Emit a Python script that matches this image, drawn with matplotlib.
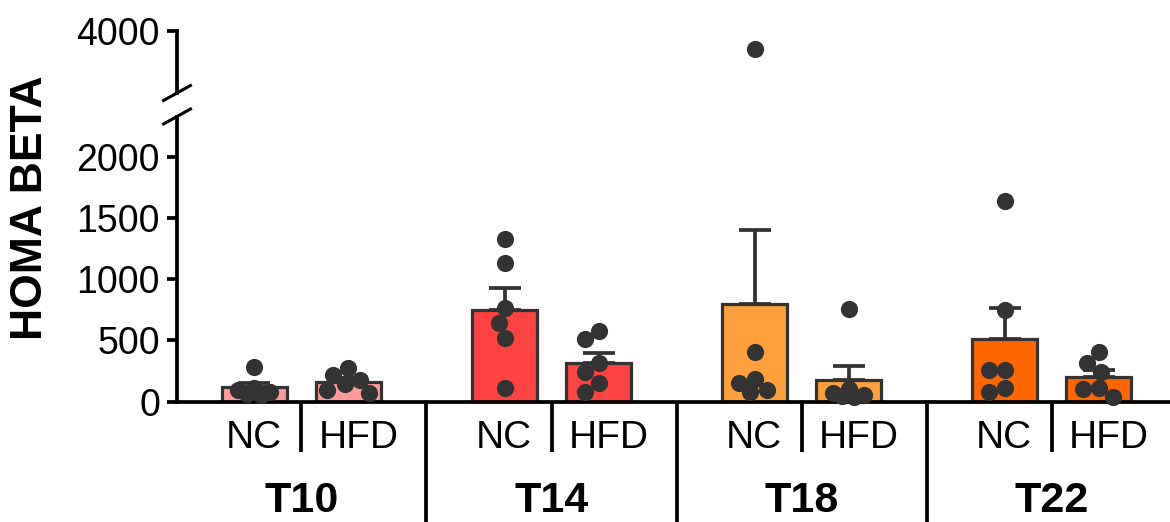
import numpy as np
import matplotlib
matplotlib.use("Agg")
import matplotlib.pyplot as plt
import matplotlib.transforms as mtransforms

plt.rcParams['font.family'] = ['Liberation Sans', 'DejaVu Sans']

# ---- data -------------------------------------------------------------
timepoints = ["T10", "T14", "T18", "T22"]
diets = ["NC", "HFD"]

t10_nc = [285, 110, 95, 80, 65, 55]
t10_hfd = [274, 217, 180, 140, 95, 70]
t14_nc = [1330, 1131, 763, 640, 517, 108]
t14_hfd = [577, 511, 313, 244, 149, 80]
t18_nc = [3850, 408, 182, 149, 94, 80]
t18_hfd = [754, 100, 70, 50, 45, 37]
t22_nc = [1643, 745, 258, 258, 108, 80]
t22_hfd = [403, 312, 244, 108, 100, 39]

groups = [(t10_nc, t10_hfd), (t14_nc, t14_hfd), (t18_nc, t18_hfd), (t22_nc, t22_hfd)]
bar_colors = ["#FF9A9A", "#FF4242", "#FFA03C", "#FF6600"]

lower_ticks = [0, 500, 1000, 1500, 2000]
upper_ticks = [4000]
lower_lim = (0, 2332)
upper_lim = (3493, 4000)

# ---- style ------------------------------------------------------------
DARK = "#333333"
W, H = 1170, 522
group_step = 2.66
bar_w = 0.69
axis_lw = 2.7
dot_ms = 12.4

fig = plt.figure(figsize=(W / 100, H / 100), dpi=100)

ax_lo = fig.add_axes([177 / W, (H - 401.5) / H, (W - 177) / W, (401.5 - 116.5) / H])
ax_hi = fig.add_axes([177 / W, (H - 93) / H, (W - 177) / W, (93 - 31) / H], sharex=ax_lo)

xlim = (-0.824, 9.739)
ax_lo.set_xlim(*xlim)
ax_lo.set_ylim(*lower_lim)
ax_hi.set_ylim(*upper_lim)

for ax in (ax_lo, ax_hi):
    ax.spines['top'].set_visible(False)
    ax.spines['right'].set_visible(False)
    ax.spines['left'].set_linewidth(axis_lw)
    ax.spines['bottom'].set_linewidth(axis_lw)
    ax.tick_params(axis='y', direction='out', length=7.2, width=axis_lw,
                   labelsize=27, pad=5)
    ax.tick_params(axis='x', bottom=False, labelbottom=False)
    ax.patch.set_visible(False)
ax_hi.spines['bottom'].set_visible(False)
ax_lo.set_yticks(lower_ticks)
ax_hi.set_yticks(upper_ticks)

fig.canvas.draw()
px_per_x = (ax_lo.get_window_extent().width) / (xlim[1] - xlim[0])


def swarm(vals, ax, min_dist=16.0, max_off=22.0, step=1.0):
    """Spread overlapping dots sideways (in pixels), staying inside the bar."""
    ys = np.array([ax.transData.transform((0, v))[1] for v in vals])
    offs = np.zeros(len(vals))
    placed = []
    cands = [0.0]
    k = 1
    while k * step <= max_off:
        cands += [-k * step, k * step]
        k += 1
    for i in np.argsort(-ys, kind='stable'):
        best, best_d = 0.0, -1.0
        for c in cands:
            d = min([np.hypot(c - px, ys[i] - py) for px, py in placed] or [np.inf])
            if d >= min_dist:
                best = c
                break
            if d > best_d + 1e-9:
                best, best_d = c, d
        offs[i] = best
        placed.append((best, ys[i]))
    return offs / px_per_x


blend = mtransforms.blended_transform_factory(ax_lo.transData, fig.transFigure)

for gi, (pair, color) in enumerate(zip(groups, bar_colors)):
    base = gi * group_step
    for di, vals in enumerate(pair):
        x = base + di
        v = np.asarray(vals, dtype=float)
        mean = v.mean()
        sem = v.std(ddof=1) / np.sqrt(len(v))
        ax_lo.bar(x, mean, width=bar_w, color=color, edgecolor=DARK,
                  linewidth=2.3, zorder=2)
        ax_lo.errorbar(x, mean, yerr=[[0], [sem]], fmt='none', ecolor=DARK,
                       elinewidth=2.7, capsize=11.5, capthick=2.7, zorder=3)
        low = v[v <= lower_lim[1]]
        high = v[v >= upper_lim[0]]
        offs = swarm(low, ax_lo)
        ax_lo.plot(x + offs, low, 'o', ms=dot_ms, color=DARK, mec='none',
                   zorder=6, clip_on=False)
        if len(high):
            ax_hi.plot(np.full(len(high), x), high, 'o', ms=dot_ms, color=DARK,
                       mec='none', zorder=6, clip_on=False)

    # category separators and labels below the axis
    mid = base + 0.5
    y_axis = 1 - 401.5 / H
    ax_lo.plot([mid, mid], [y_axis, 1 - 451.5 / H], color='black', lw=axis_lw,
               transform=blend, clip_on=False, solid_capstyle='butt')
    ax_lo.text(mid, 1 - 448 / H, diets[0], fontsize=28, ha='right', va='baseline',
               transform=mtransforms.offset_copy(blend, fig=fig, x=-20, units='dots'))
    ax_lo.text(mid, 1 - 448 / H, diets[1], fontsize=28, ha='left', va='baseline',
               transform=mtransforms.offset_copy(blend, fig=fig, x=17, units='dots'))
    ax_lo.text(mid, 1 - 512 / H, timepoints[gi], fontsize=31, fontweight='bold',
               ha='center', va='baseline', transform=blend)
    if gi < len(groups) - 1:
        sep = base + 1 + (group_step - 1) / 2
        ax_lo.plot([sep, sep], [y_axis, 0], color='black', lw=axis_lw,
                   transform=blend, clip_on=False, solid_capstyle='butt')

# axis break marks
for ax, at_top in ((ax_lo, True), (ax_hi, False)):
    pos = ax.get_position()
    cx = pos.x0
    cy = pos.y1 if at_top else pos.y0
    dx, dy = 13.5 / W, 7.5 / H
    fig.add_artist(plt.Line2D([cx - dx, cx + dx], [cy - dy, cy + dy],
                              color='black', lw=2.2, transform=fig.transFigure))

fig.text(31 / W, 1 - 208 / H, "HOMA BETA", rotation=90, ha='center', va='center',
         fontsize=32, fontweight='bold')

fig.savefig("out.png", dpi=100)
